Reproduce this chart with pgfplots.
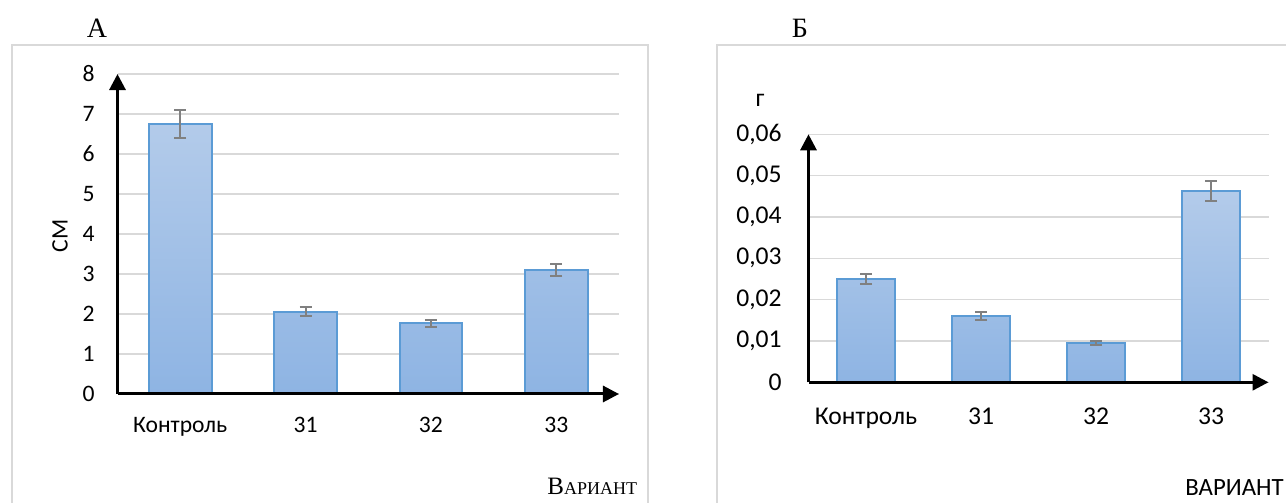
\documentclass[border=0pt]{standalone}
\usepackage{fontspec}
\setmainfont{Carlito}
\newfontfamily\serif{Liberation Serif}
\usepackage{pgfplots}
\pgfplotsset{compat=1.18}
\usepackage{pgfplotstable}
\usetikzlibrary{arrows.meta}
\definecolor{barTop}{HTML}{B3CBEA}
\definecolor{barBot}{HTML}{8EB4E3}
\definecolor{barEdge}{HTML}{5B9BD5}
\definecolor{gridc}{HTML}{D9D9D9}
\definecolor{errc}{HTML}{808080}

\pgfplotstableread{
x y e
0 6.75 0.34
1 2.06 0.11
2 1.77 0.09
3 3.10 0.16
}\dataA
\pgfplotstableread{
x y e
0 0.0251 0.0012
1 0.0160 0.0009
2 0.0095 0.0005
3 0.0462 0.0024
}\dataB

\pgfplotsset{
  panel/.style={
    scale only axis, clip=false,
    ybar, bar width=0.5,
    xmin=-0.5, xmax=3.5, ymin=0,
    axis x line=bottom, axis y line=left,
    axis line style={draw=none},
    major tick length=0pt, tick style={draw=none},
    scaled y ticks=false,
    ymajorgrids, grid style={gridc, line width=0.75pt},
    xtick={0,1,2,3},
    xticklabels={Контроль,31,32,33},
    yticklabel style={anchor=east, inner sep=0pt},
    xticklabel style={anchor=base, inner sep=0pt},
  },
  barplot/.style={
    draw=barEdge, line width=1pt, top color=barTop, bottom color=barBot,
    error bars/.cd, y dir=both, y explicit,
    error bar style={errc, line width=1pt},
    error mark options={errc, line width=1pt, mark size=3pt, rotate=90},
  },
}

\begin{document}
\begin{tikzpicture}
\useasboundingbox (0,0) rectangle (643pt,251.5pt);
\clip (0,0) rectangle (643pt,251.5pt);
% frames
\draw[gridc, line width=0.6pt] (6pt,-5pt) |- (324pt,229pt) -- (324pt,-5pt);
\draw[gridc, line width=0.6pt] (358.5pt,-5pt) |- (660pt,229pt);
% panel letters
\node[font=\serif\fontsize{14}{16}\selectfont] at (48.5pt,237.5pt) {А};
\node[font=\serif\fontsize{14}{16}\selectfont] at (400pt,237.5pt) {Б};

% Panel A
\begin{axis}[panel,
  at={(58.75pt,54.5pt)}, anchor=south west,
  width=250.75pt, height=160pt,
  ymax=8, ytick={0,1,2,3,4,5,6,7,8},
  yticklabels={0,1,2,3,4,5,6,7,8},
  ticklabel style={font=\fontsize{11.8}{13}\selectfont},
  yticklabel style={xshift=-11.25pt},
  xticklabel style={yshift=-19.5pt},
]
\addplot[barplot] table[x=x, y=y, y error=e] {\dataA};
\draw[line width=1.5pt, -{Triangle[length=8pt,width=8pt]}] (axis cs:-0.5,0) -- (axis cs:3.5,0);
\draw[line width=1.5pt, -{Triangle[length=8pt,width=8pt]}] (axis cs:-0.5,0) -- (axis cs:-0.5,8);
\end{axis}
\node[rotate=90, font=\fontsize{11.8}{13}\selectfont] at (30pt,133.5pt) {СМ};
\node[anchor=base east, inner sep=0pt] at (318.75pt,4.35pt) {\serif\fontsize{12.5}{14}\selectfont В\fontsize{9}{11}\selectfont АРИАНТ};

% Panel B
\begin{axis}[panel,
  at={(404.25pt,60.35pt)}, anchor=south west,
  width=230pt, height=124pt,
  ymax=0.06, ytick={0,0.01,0.02,0.03,0.04,0.05,0.06},
  yticklabels={0,{0,01},{0,02},{0,03},{0,04},{0,05},{0,06}},
  ticklabel style={font=\fontsize{12.8}{14}\selectfont},
  yticklabel style={xshift=-13.25pt},
  xticklabel style={yshift=-21.35pt},
]
\addplot[barplot] table[x=x, y=y, y error=e] {\dataB};
\draw[line width=1.5pt, -{Triangle[length=8pt,width=8pt]}] (axis cs:-0.5,0) -- (axis cs:3.5,0);
\draw[line width=1.5pt, -{Triangle[length=8pt,width=8pt]}] (axis cs:-0.5,0) -- (axis cs:-0.5,0.06);
\end{axis}
\node[anchor=base, inner sep=0pt, font=\fontsize{12.8}{14}\selectfont] at (380pt,198pt) {г};
\node[anchor=base west, inner sep=0pt, font=\fontsize{12.4}{14}\selectfont] at (592.5pt,3.5pt) {ВАРИАНТ};
\end{tikzpicture}
\end{document}
